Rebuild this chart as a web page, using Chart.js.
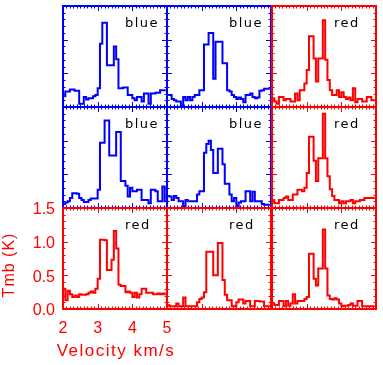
<!DOCTYPE html>
<html>
<head>
<meta charset="utf-8">
<script src="https://cdn.jsdelivr.net/npm/chart.js"></script>
<style>
  html, body { margin: 0; padding: 0; background: #fff; }
  #wrap { position: relative; width: 383px; height: 365px; overflow: hidden; }
  #wrap canvas { position: absolute; }
</style>
</head>
<body>
<div id="wrap"></div>
<script>
// channel centres (km/s)
const velocity = [2.033, 2.100, 2.167, 2.233, 2.300, 2.367, 2.433, 2.500, 2.567, 2.633,
                  2.700, 2.767, 2.833, 2.900, 2.967, 3.033, 3.100, 3.167, 3.233, 3.300,
                  3.367, 3.433, 3.500, 3.567, 3.633, 3.700, 3.767, 3.833, 3.900, 3.967,
                  4.033, 4.100, 4.167, 4.233, 4.300, 4.367, 4.433, 4.500, 4.567, 4.633,
                  4.700, 4.767, 4.833, 4.900, 4.967];

// Tmb (K), row by row
const r1c1 = [0.16, 0.23, 0.23, 0.26, 0.26, 0.24, 0.24, 0.05, 0.05, 0.15, 0.11, 0.13, 0.13, 0.16, 0.18,
              0.28, 0.94, 1.25, 1.25, 0.62, 0.62, 0.62, 0.90, 0.71, 0.28, 0.28, 0.29, 0.29, 0.18, 0.18,
              0.13, 0.10, 0.15, 0.15, 0.08, 0.20, 0.20, 0.05, 0.20, 0.20, 0.21, 0.21, 0.25, 0.25, 0.25];
const r1c2 = [0.18, 0.18, 0.12, 0.10, 0.08, 0.08, 0.01, 0.15, 0.10, 0.15, 0.10, 0.15, 0.18, 0.18, 0.25,
              0.25, 0.93, 0.93, 1.10, 1.10, 0.42, 0.97, 0.97, 0.97, 0.65, 0.65, 0.25, 0.23, 0.18, 0.15,
              0.12, 0.14, 0.12, 0.07, 0.18, 0.18, 0.20, 0.15, 0.13, 0.14, 0.24, 0.25, 0.27, 0.27, 0.27];
const r1c3 = [0.13, 0.08, 0.05, 0.15, 0.15, 0.10, 0.12, 0.12, 0.08, 0.08, 0.20, 0.10, 0.25, 0.25, 0.35,
              0.55, 1.05, 1.05, 0.72, 0.38, 0.72, 0.72, 1.29, 0.70, 0.40, 0.25, 0.18, 0.18, 0.25, 0.15,
              0.22, 0.15, 0.12, 0.14, 0.10, 0.28, 0.07, 0.12, 0.12, 0.08, 0.08, 0.15, 0.15, 0.10, 0.10];
const r2c1 = [0.06, 0.08, 0.10, 0.15, 0.22, 0.22, 0.21, 0.15, 0.12, 0.09, 0.09, 0.12, 0.14, 0.14, 0.14,
              0.27, 0.97, 0.97, 1.30, 1.30, 0.78, 0.78, 0.78, 1.13, 1.13, 0.40, 0.40, 0.33, 0.17, 0.30,
              0.25, 0.25, 0.27, 0.27, 0.12, 0.12, 0.12, 0.07, 0.27, 0.27, 0.25, 0.10, 0.10, 0.32, 0.10];
const r2c2 = [0.18, 0.17, 0.12, 0.18, 0.15, 0.10, 0.10, 0.02, 0.12, 0.10, 0.10, 0.10, 0.10, 0.20, 0.25,
              0.25, 0.82, 0.95, 1.00, 0.86, 0.52, 0.52, 0.88, 0.88, 0.65, 0.36, 0.36, 0.20, 0.10, 0.15,
              0.03, 0.08, 0.10, 0.10, 0.25, 0.25, 0.10, 0.24, 0.10, 0.10, 0.10, 0.06, 0.05, 0.05, 0.05];
const r2c3 = [0.12, 0.07, 0.07, 0.12, 0.12, 0.15, 0.17, 0.12, 0.12, 0.20, 0.20, 0.27, 0.27, 0.25, 0.30,
              0.52, 1.06, 1.06, 0.70, 0.40, 0.74, 0.74, 1.40, 0.74, 0.47, 0.28, 0.18, 0.12, 0.12, 0.07,
              0.10, 0.07, 0.10, 0.10, 0.12, 0.07, 0.10, 0.10, 0.12, 0.12, 0.15, 0.15, 0.15, 0.15, 0.15];
const r3c1 = [0.30, 0.13, 0.27, 0.22, 0.18, 0.20, 0.18, 0.22, 0.21, 0.21, 0.22, 0.24, 0.26, 0.24, 0.30,
              0.45, 1.03, 1.03, 1.02, 0.58, 0.58, 0.73, 1.16, 0.90, 0.36, 0.34, 0.34, 0.25, 0.26, 0.24,
              0.18, 0.24, 0.17, 0.22, 0.30, 0.30, 0.24, 0.24, 0.24, 0.22, 0.22, 0.23, 0.22, 0.23, 0.22];
const r3c2 = [0.06, 0.04, 0.04, 0.04, 0.08, 0.04, 0.04, 0.17, 0.04, 0.04, 0.04, 0.04, 0.04, 0.10, 0.15,
              0.17, 0.25, 0.85, 0.85, 0.85, 0.50, 0.50, 0.98, 0.98, 0.43, 0.21, 0.13, 0.13, 0.04, 0.04,
              0.10, 0.14, 0.14, 0.08, 0.12, 0.12, 0.04, 0.04, 0.12, 0.12, 0.11, 0.11, 0.04, 0.04, 0.04];
const r3c3 = [0.08, 0.06, 0.06, 0.12, 0.12, 0.04, 0.12, 0.05, 0.08, 0.22, 0.08, 0.12, 0.12, 0.12, 0.15,
              0.18, 0.82, 0.82, 0.45, 0.35, 0.60, 0.60, 1.18, 0.60, 0.20, 0.15, 0.14, 0.16, 0.14, 0.08,
              0.04, 0.05, 0.05, 0.06, 0.08, 0.05, 0.05, 0.12, 0.12, 0.04, 0.04, 0.04, 0.04, 0.04, 0.04];

const panelRows = [[r1c1, r1c2, r1c3], [r2c1, r2c2, r2c3], [r3c1, r3c2, r3c3]];
const panelNames = [['blue', 'blue', 'red'], ['blue', 'blue', 'red'], ['red', 'red', 'red']];

const xTickValues = [2, 3, 4, 5];
const xTickLabels = ['2', '3', '4', '5'];
const yTickValues = [0, 0.5, 1.0, 1.5];
const yTickLabels = ['0.0', '0.5', '1.0', '1.5'];
const xTitle = 'Velocity km/s';
const yTitle = 'Tmb (K)';

// layout / style
const colours = { blue: '#0000ff', red: '#ff0000' };
const colLeft = [63, 167, 272];
const rowTop = [6, 107, 208];
const panelW = 104, panelH = 101;
const pageH = 365;
const padTop = 20, padRight = 16;   // room chart.js wants for the end tick labels
const titleFont = '"Liberation Sans", Arial, sans-serif';

// frame, inward ticks, the blue/red tag of each panel and the axis titles
const panelPlugin = {
  id: 'panel',
  afterDraw(chart, args, opts) {
    const { ctx, chartArea: a, scales: { x, y } } = chart;
    ctx.save();
    ctx.strokeStyle = opts.colour;
    ctx.lineWidth = 1;
    ctx.beginPath();
    for (let k = 21; k < 50; k++) {
      const px = Math.round(x.getPixelForValue(k / 10)) + 0.5;
      const len = k % 10 === 0 ? 5 : 2.5;
      ctx.moveTo(px, a.bottom); ctx.lineTo(px, a.bottom - len);
      ctx.moveTo(px, a.top); ctx.lineTo(px, a.top + len);
    }
    for (let k = 1; k < 15; k++) {
      const py = Math.round(y.getPixelForValue(k / 10)) + 0.5;
      const len = k % 5 === 0 ? 5 : 2.5;
      ctx.moveTo(a.left, py); ctx.lineTo(a.left + len, py);
      ctx.moveTo(a.right, py); ctx.lineTo(a.right - len, py);
    }
    ctx.stroke();
    ctx.lineWidth = 2;
    ctx.strokeRect(a.left, a.top, a.right - a.left, a.bottom - a.top);

    ctx.fillStyle = '#000';
    ctx.font = '13px "DejaVu Sans"';
    ctx.letterSpacing = '1.5px';
    ctx.textAlign = 'left';
    ctx.textBaseline = 'alphabetic';
    ctx.fillText(opts.name, a.left + 62, a.top + 21);

    if (opts.titles) {
      // IDL-style wide lettering, wider than the panel, so drawn here
      ctx.fillStyle = opts.colour;
      ctx.textAlign = 'center';
      ctx.textBaseline = 'middle';
      ctx.font = '17px ' + titleFont;
      ctx.letterSpacing = '1.5px';
      ctx.fillText(xTitle, (a.left + a.right) / 2 + 1, a.bottom + 42);

      ctx.font = '16px ' + titleFont;
      ctx.letterSpacing = '1px';
      ctx.translate(10, a.top + 57);
      ctx.rotate(-Math.PI / 2);
      ctx.fillText(yTitle, 0, 0);
    }
    ctx.restore();
  }
};

const wrap = document.getElementById('wrap');

function makePanel(r, c) {
  const labelled = r === 2 && c === 0;
  const name = panelNames[r][c];
  const colour = colours[name];
  const canvas = document.createElement('canvas');

  let left, top, w, h, padding;
  if (labelled) {
    left = 0; top = rowTop[r] - padTop;
    w = colLeft[c] + panelW + padRight; h = pageH - top;
    padding = { top: padTop, right: padRight, left: 0, bottom: 0 };
  } else {
    left = colLeft[c] - 4; top = rowTop[r] - 4;
    w = panelW + 8; h = panelH + 8;
    padding = 4;
  }
  canvas.width = w; canvas.height = h;
  canvas.style.left = left + 'px'; canvas.style.top = top + 'px';
  canvas.style.width = w + 'px'; canvas.style.height = h + 'px';
  wrap.appendChild(canvas);

  const vals = panelRows[r][c];
  const labelFont = { family: titleFont, size: 16 };

  const xScale = { type: 'linear', min: 2, max: 5, display: false };
  const yScale = { type: 'linear', min: 0, max: 1.5, display: false };
  if (labelled) {
    Object.assign(xScale, {
      display: true,
      position: 'bottom',
      grid: { display: false, drawTicks: false },
      border: { display: false },
      afterBuildTicks: s => { s.ticks = xTickValues.map(v => ({ value: v })); },
      afterFit: s => { s.height = pageH - (rowTop[r] + panelH); },
      ticks: {
        color: colour, font: labelFont, padding: 10,
        maxRotation: 0, autoSkip: false,
        callback: (v, i) => xTickLabels[i]
      }
    });
    Object.assign(yScale, {
      display: true,
      position: 'left',
      grid: { display: false, drawTicks: false },
      border: { display: false },
      afterBuildTicks: s => { s.ticks = yTickValues.map(v => ({ value: v })); },
      afterFit: s => { s.width = colLeft[c]; },
      ticks: {
        color: colour, font: labelFont, padding: 8, labelOffset: 2,
        callback: (v, i) => yTickLabels[i]
      }
    });
  }

  new Chart(canvas, {
    type: 'line',
    data: {
      datasets: [{
        data: velocity.map((v, i) => ({ x: v, y: vals[i] })),
        borderColor: colour,
        borderWidth: 2,
        pointRadius: 0,
        stepped: 'middle',
        fill: false
      }]
    },
    options: {
      responsive: false,
      animation: false,
      events: [],
      devicePixelRatio: 1,
      layout: { padding: padding },
      scales: { x: xScale, y: yScale },
      plugins: {
        legend: { display: false },
        tooltip: { enabled: false },
        panel: { colour: colour, name: name, titles: labelled }
      }
    },
    plugins: [panelPlugin]
  });
}

for (let r = 0; r < 3; r++) {
  for (let c = 0; c < 3; c++) makePanel(r, c);
}
</script>
</body>
</html>
